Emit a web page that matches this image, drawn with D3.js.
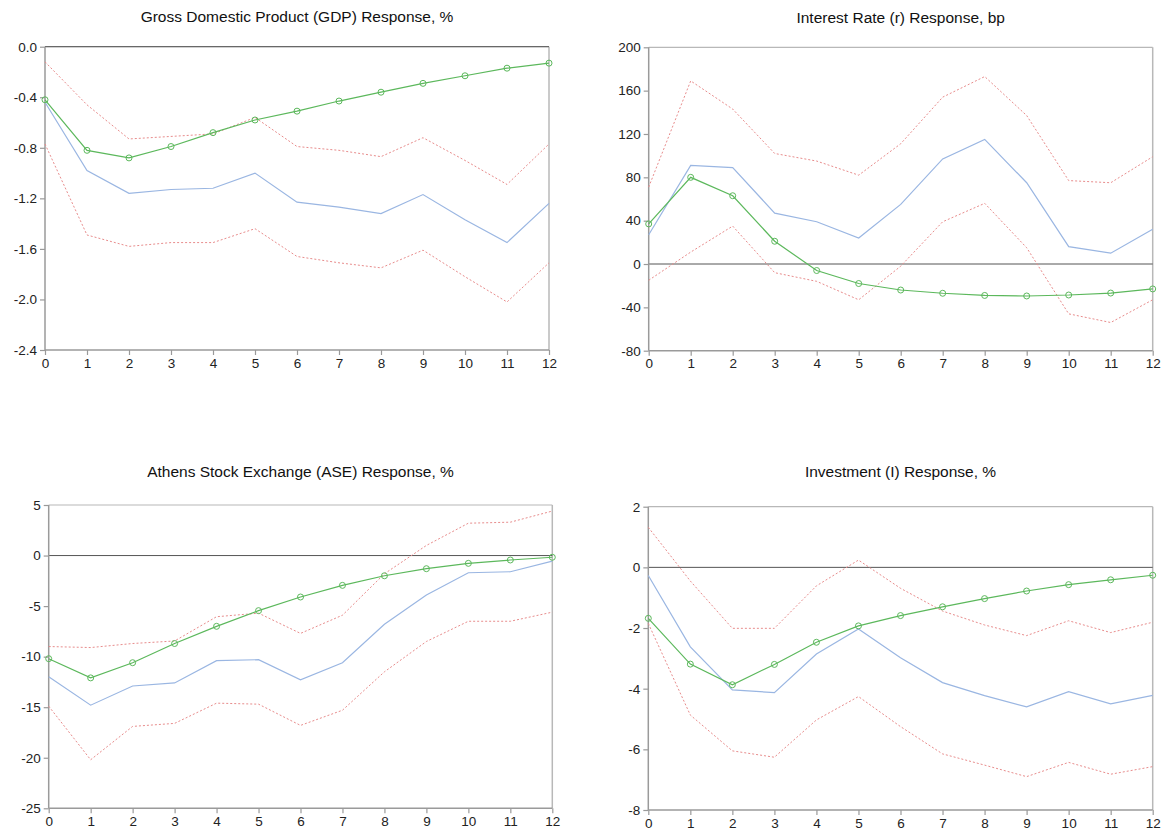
<!DOCTYPE html>
<html>
<head>
<meta charset="utf-8">
<script src="https://cdn.jsdelivr.net/npm/d3@7/dist/d3.min.js"></script>
<style>
  body { margin: 0; background: #fff; }
  svg { display: block; font-family: "Liberation Sans", Arial, sans-serif; }
</style>
</head>
<body>
<svg id="chart" width="1168" height="835"></svg>
<script>
const horizons = [0,1,2,3,4,5,6,7,8,9,10,11,12];

// GDP
const gdpTitle = "Gross Domestic Product (GDP) Response, %";
const gdpTicks = [0.0,-0.4,-0.8,-1.2,-1.6,-2.0,-2.4];
const gdpGreen = [-0.42,-0.82,-0.88,-0.79,-0.68,-0.58,-0.51,-0.43,-0.36,-0.29,-0.23,-0.17,-0.13];
const gdpBlue  = [-0.44,-0.98,-1.16,-1.13,-1.12,-1.00,-1.23,-1.27,-1.32,-1.17,-1.37,-1.55,-1.24];
const gdpUpper = [-0.12,-0.46,-0.73,-0.71,-0.69,-0.56,-0.79,-0.82,-0.87,-0.72,-0.90,-1.09,-0.77];
const gdpLower = [-0.77,-1.49,-1.58,-1.55,-1.55,-1.44,-1.66,-1.71,-1.75,-1.61,-1.82,-2.02,-1.71];

// Interest rate
const irTitle = "Interest Rate (r) Response, bp";
const irTicks = [200,160,120,80,40,0,-40,-80];
const irGreen = [37,80,63,21,-6,-18,-24,-27,-29,-29.5,-28.6,-26.8,-23];
const irBlue  = [27,91,89,47,39,24,55,97,115,75,16,10,32];
const irUpper = [71,169,143,102,95,82,111,154,173,137,77,75,99];
const irLower = [-15,11,35,-8,-16,-33,-2,39,56,15,-46,-54,-33];

// ASE
const aseTitle = "Athens Stock Exchange (ASE) Response, %";
const aseTicks = [5,0,-5,-10,-15,-20,-25];
const aseGreen = [-10.2,-12.1,-10.6,-8.7,-7.0,-5.45,-4.1,-2.95,-2.0,-1.3,-0.77,-0.44,-0.17];
const aseBlue  = [-12.0,-14.8,-12.9,-12.6,-10.4,-10.3,-12.3,-10.6,-6.8,-3.9,-1.7,-1.6,-0.55];
const aseUpper = [-9.0,-9.1,-8.7,-8.45,-6.05,-5.7,-7.7,-5.9,-1.8,1.0,3.2,3.3,4.4];
const aseLower = [-14.9,-20.2,-16.9,-16.6,-14.6,-14.7,-16.8,-15.3,-11.5,-8.5,-6.5,-6.5,-5.6];

// Investment
const invTitle = "Investment (I) Response, %";
const invTicks = [2,0,-2,-4,-6,-8];
const invGreen = [-1.68,-3.19,-3.87,-3.2,-2.47,-1.93,-1.59,-1.3,-1.03,-0.78,-0.57,-0.41,-0.26];
const invBlue  = [-0.27,-2.62,-4.04,-4.13,-2.86,-2.03,-2.98,-3.8,-4.23,-4.6,-4.1,-4.5,-4.22];
const invUpper = [1.32,-0.45,-2.01,-2.01,-0.61,0.24,-0.69,-1.44,-1.9,-2.25,-1.76,-2.15,-1.81];
const invLower = [-1.85,-4.87,-6.05,-6.26,-5.03,-4.26,-5.25,-6.15,-6.52,-6.9,-6.43,-6.82,-6.57];

const hyph = f => (d => f(d).replace("\u2212", "-"));

const panels = [
  {title: gdpTitle, ticks: gdpTicks, dom: [-2.4, 0], fmt: hyph(d3.format(".1f")), green: gdpGreen, blue: gdpBlue, upper: gdpUpper, lower: gdpLower,
   x0: 45, x1: 549, y0: 46.7, y1: 350, ty: 21.5},
  {title: irTitle, ticks: irTicks, dom: [-80, 200], fmt: hyph(d3.format("d")), green: irGreen, blue: irBlue, upper: irUpper, lower: irLower,
   x0: 648.7, x1: 1152.7, y0: 47.3, y1: 350.7, ty: 22.5},
  {title: aseTitle, ticks: aseTicks, dom: [-25, 5], fmt: hyph(d3.format("d")), green: aseGreen, blue: aseBlue, upper: aseUpper, lower: aseLower,
   x0: 48.7, x1: 552.3, y0: 505, y1: 808.3, ty: 476.5},
  {title: invTitle, ticks: invTicks, dom: [-8, 2], fmt: hyph(d3.format("d")), green: invGreen, blue: invBlue, upper: invUpper, lower: invLower,
   x0: 648.3, x1: 1152.7, y0: 506.7, y1: 810, ty: 476.5}
];

const svg = d3.select("#chart");
const axisColor = "#9a9a9a";

panels.forEach(p => {
  const g = svg.append("g");
  const x = d3.scaleLinear().domain([0, 12]).range([p.x0, p.x1]);
  const y = d3.scaleLinear().domain(p.dom).range([p.y1, p.y0]);

  g.append("text").attr("x", (p.x0 + p.x1) / 2).attr("y", p.ty)
    .attr("text-anchor", "middle").attr("font-size", 15.5).attr("fill", "#111")
    .text(p.title);

  g.append("line").attr("x1", p.x0).attr("x2", p.x1).attr("y1", p.y0).attr("y2", p.y0)
    .attr("stroke", "#b8b8b8").attr("stroke-width", 1.2);
  g.append("line").attr("x1", p.x1).attr("x2", p.x1).attr("y1", p.y0).attr("y2", p.y1)
    .attr("stroke", "#b8b8b8").attr("stroke-width", 1.5);

  g.append("line").attr("x1", p.x0).attr("x2", p.x1).attr("y1", y(0)).attr("y2", y(0))
    .attr("stroke", "#555").attr("stroke-width", 1);

  const yAxis = d3.axisLeft(y).tickValues(p.ticks).tickFormat(p.fmt).tickSize(5).tickPadding(3);
  const ya = g.append("g").attr("transform", `translate(${p.x0},0)`).call(yAxis);
  const xAxis = d3.axisBottom(x).tickValues(horizons).tickFormat(d3.format("d")).tickSize(5).tickPadding(3);
  const xa = g.append("g").attr("transform", `translate(0,${p.y1})`).call(xAxis);
  [ya, xa].forEach(a => {
    a.select(".domain").attr("stroke", axisColor).attr("stroke-width", 1.5);
    a.selectAll(".tick line").attr("stroke", axisColor).attr("stroke-width", 1.2);
    a.selectAll(".tick text").attr("font-size", 13.5).attr("fill", "#222")
      .attr("font-family", "'Liberation Sans', Arial, sans-serif");
  });
  xa.select(".domain").attr("d", `M${p.x0},0H${p.x1}`);
  ya.select(".domain").attr("d", `M0,${p.y0}V${p.y1}`);

  const line = d3.line().x((d, i) => x(horizons[i])).y(d => y(d));

  [p.upper, p.lower].forEach(s => {
    g.append("path").datum(s).attr("d", line).attr("fill", "none")
      .attr("stroke", "#e88c8c").attr("stroke-width", 1).attr("stroke-dasharray", "2,2");
  });
  g.append("path").datum(p.blue).attr("d", line).attr("fill", "none")
    .attr("stroke", "#9ab6e2").attr("stroke-width", 1.2);
  g.append("path").datum(p.green).attr("d", line).attr("fill", "none")
    .attr("stroke", "#5cb85c").attr("stroke-width", 1.2);
  g.selectAll("circle.m").data(p.green).enter().append("circle")
    .attr("cx", (d, i) => x(horizons[i])).attr("cy", d => y(d)).attr("r", 3)
    .attr("fill", "none").attr("stroke", "#5cb85c").attr("stroke-width", 1);
});
</script>
</body>
</html>
